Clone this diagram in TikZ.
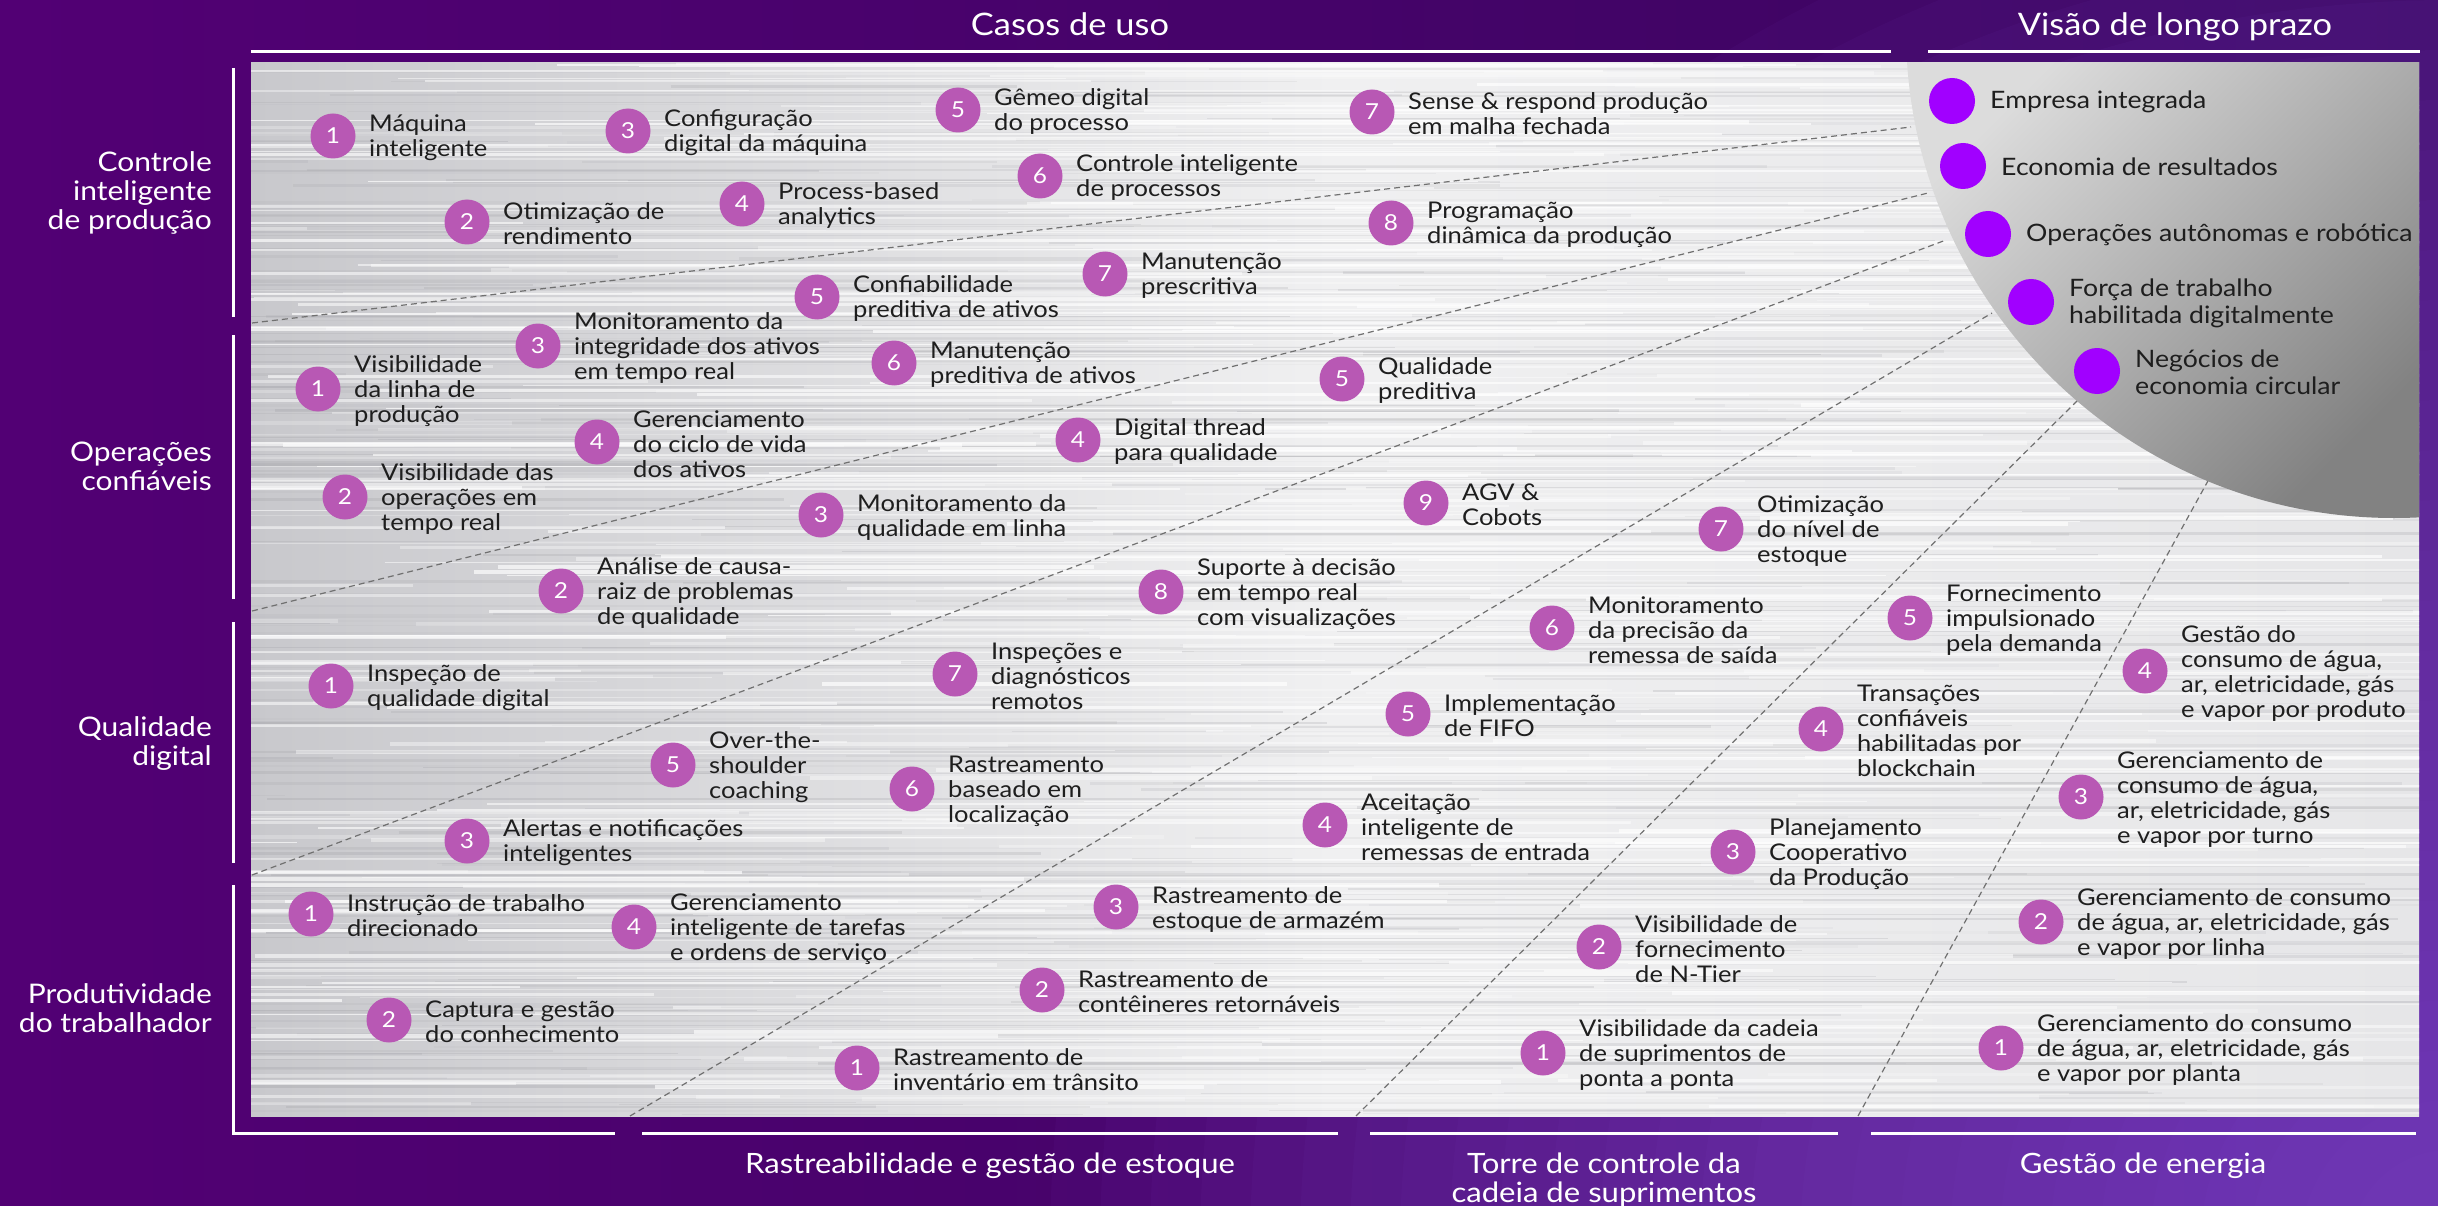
\documentclass[tikz,border=0pt]{standalone}
\usepackage{fontspec}
\setmainfont{Lato}[FakeStretch=1.11]

\definecolor{bgL}{HTML}{520074}
\definecolor{bgR}{HTML}{3A0660}
\definecolor{glowA}{HTML}{8A50D8}
\definecolor{numc}{HTML}{B858B4}
\definecolor{visc}{HTML}{A100FF}
\definecolor{ink}{HTML}{1E1E1E}
\definecolor{metalL}{HTML}{C8C8CC}
\definecolor{metalM}{HTML}{F0F0F1}
\definecolor{metalR}{HTML}{E6E6E8}
\definecolor{streakD}{HTML}{8E8E94}
\definecolor{discL}{HTML}{DCDCDC}
\definecolor{discD}{HTML}{828282}
\definecolor{dashc}{HTML}{707070}

\newcommand\itemfont{\fontsize{23}{25}\selectfont}
\newcommand\visfont{\fontsize{24}{27}\selectfont}
\newcommand\headfont{\fontsize{28}{29}\selectfont}
\newcommand\sidefont{\fontsize{27}{29}\selectfont}
\newcommand\topfont{\fontsize{31}{31}\selectfont}
\newcommand\numfont{\fontsize{22}{22}\selectfont}

% numbered use case: name, x, y, number, label
\newcommand\uc[5]{%
  \node[numdot] (#1) at (#2,#3) {#4};
  \node[usetxt] (#1t) at ([xshift=36pt,yshift=-2pt]#1.center) {#5};}
% long-term vision entry: name, x, y, label
\newcommand\vis[4]{%
  \node[visdot] (#1) at (#2,#3) {};
  \node[vistxt] (#1t) at ([xshift=38pt,yshift=-1pt]#1.center) {#4};}

\tikzset{
  rule/.style={draw=white, line width=3pt},
  divider/.style={draw=dashc, line width=1.2pt, dash pattern=on 6pt off 4pt},
  numdot/.style={circle, fill=numc, text=white, minimum size=45pt, inner sep=0pt, font=\numfont},
  usetxt/.style={anchor=west, align=left, text=ink, font=\itemfont, inner sep=0pt},
  visdot/.style={circle, fill=visc, minimum size=46pt, inner sep=0pt},
  vistxt/.style={anchor=west, align=left, text=ink, font=\visfont, inner sep=0pt},
  head/.style={text=white, font=\headfont, inner sep=0pt},
}

\begin{document}
\begin{tikzpicture}[x=1pt, y=-1pt]
\useasboundingbox (0,0) rectangle (2438,1206);

% purple backdrop with a violet glow in the lower right
\begin{scope}
  \clip (0,0) rectangle (2438,1206);
  \fill[left color=bgL, right color=bgR] (0,0) rectangle (2438,1206);
  \foreach \r in {100,150,...,1400}{
    \fill[glowA, opacity=0.05] (2450,1250) circle (\r);
  }
\end{scope}

% brushed metal panel
\begin{scope}
  \clip (251,63) rectangle (2419,1116);
  \shade[left color=metalL, right color=metalR, middle color=metalM] (251,63) rectangle (2419,1116);
  \pgfmathsetseed{42}
  \foreach \i in {1,...,420}{
    \pgfmathsetmacro\yy{63+1053*rnd}
    \pgfmathsetmacro\xa{251+2168*rnd-700}
    \pgfmathsetmacro\len{300+1400*rnd}
    \pgfmathsetmacro\w{0.6+2.4*rnd}
    \pgfmathsetmacro\op{0.04+0.16*rnd}
    \draw[line width=\w pt, draw=streakD, opacity=\op] (\xa,\yy) -- ++(\len,0);
  }
  \foreach \i in {1,...,420}{
    \pgfmathsetmacro\yy{63+1053*rnd}
    \pgfmathsetmacro\xa{251+2168*rnd-600}
    \pgfmathsetmacro\len{300+1500*rnd}
    \pgfmathsetmacro\w{0.8+3.2*rnd}
    \pgfmathsetmacro\op{0.2+0.5*rnd}
    \draw[line width=\w pt, draw=white, opacity=\op] (\xa,\yy) -- ++(\len,0);
  }

  % dashed dividers between the use-case bands
  \coordinate (d1a) at (252,323);  \coordinate (d1b) at (1911,127);
  \coordinate (d2a) at (252,611);  \coordinate (d2b) at (1928,193);
  \coordinate (d3a) at (252,875);  \coordinate (d3b) at (1946,240);
  \coordinate (d4a) at (630,1116); \coordinate (d4b) at (1992,313);
  \coordinate (d5a) at (1356,1116);\coordinate (d5b) at (2078,400);
  \coordinate (d6a) at (1858,1116);\coordinate (d6b) at (2209,479);
  \foreach \k in {1,...,6}{ \draw[divider] (d\k a) -- (d\k b); }

  % grey disc of the long-term vision
  \begin{scope}
    \clip (2394,30) circle (488);
    \shade[top color=discL, bottom color=discD, shading angle=45] (1906,63) rectangle (2419,518);
  \end{scope}
\end{scope}

% frame rules
\draw[rule] (251,52) -- (1891,52);
\draw[rule] (1928,52) -- (2420,52);
\draw[rule] (233,68) -- (233,317);
\draw[rule] (233,335) -- (233,599);
\draw[rule] (233,622) -- (233,863);
\draw[rule] (233,885) -- (233,1133) -- (615,1133);
\draw[rule] (642,1133) -- (1338,1133);
\draw[rule] (1370,1133) -- (1838,1133);
\draw[rule] (1871,1133) -- (2416,1133);

% headings
\node[head, font=\topfont, anchor=base] (hUse) at (1070,36) {Casos de uso};
\node[head, font=\topfont, anchor=base] (hVis) at (2175,36) {Visão de longo prazo};
\node[head, font=\sidefont, anchor=east, align=right] (lCtl) at (212,193) {Controle\\inteligente\\de produção};
\node[head, font=\sidefont, anchor=east, align=right] (lOps) at (212,466) {Operações\\confiáveis};
\node[head, font=\sidefont, anchor=east, align=right] (lQual) at (212,744) {Qualidade\\digital};
\node[head, font=\sidefont, anchor=east, align=right] (lProd) at (212,1008) {Produtividade\\do trabalhador};
\node[head, anchor=base] (bTrace) at (990,1173) {Rastreabilidade e gestão de estoque};
\node[head, align=center] (bTower) at (1604,1180) {Torre de controle da\\cadeia de suprimentos};
\node[head, anchor=base] (bEnergy) at (2143,1173) {Gestão de energia};

% long-term vision
\vis{v1}{1952}{101}{Empresa integrada}
\vis{v2}{1963}{166}{Economia de resultados}
\vis{v3}{1988}{234}{Operações autônomas e robótica}
\vis{v4}{2031}{302}{Força de trabalho\\habilitada digitalmente}
\vis{v5}{2097}{371}{Negócios de\\economia circular}

% intelligent production control
\uc{c1}{333}{136}{1}{Máquina\\inteligente}
\uc{c2}{467}{222}{2}{Otimização de\\rendimento}
\uc{c3}{628}{131}{3}{Configuração\\digital da máquina}
\uc{c4}{742}{204}{4}{Process-based\\analytics}
\uc{c5}{958}{110}{5}{Gêmeo digital\\do processo}
\uc{c6}{1040}{176}{6}{Controle inteligente\\de processos}
\uc{c7}{1372}{112}{7}{Sense \& respond produção\\em malha fechada}
\uc{c8}{1391}{223}{8}{Programação\\dinâmica da produção}

% reliable operations
\uc{o5}{817}{297}{5}{Confiabilidade\\preditiva de ativos}
\uc{o7}{1105}{274}{7}{Manutenção\\prescritiva}
\uc{o3}{538}{346}{3}{Monitoramento da\\integridade dos ativos\\em tempo real}
\uc{o6}{894}{363}{6}{Manutenção\\preditiva de ativos}
\uc{o1}{318}{389}{1}{Visibilidade\\da linha de\\produção}
\uc{o4}{597}{442}{4}{Gerenciamento\\do ciclo de vida\\dos ativos}
\uc{o2}{345}{497}{2}{Visibilidade das\\operações em\\tempo real}

% digital quality
\uc{q5}{1342}{379}{5}{Qualidade\\preditiva}
\uc{q4}{1078}{440}{4}{Digital thread\\para qualidade}
\uc{q3}{821}{515}{3}{Monitoramento da\\qualidade em linha}
\uc{q2}{561}{591}{2}{Análise de causa-\\raiz de problemas\\de qualidade}
\uc{q1}{331}{686}{1}{Inspeção de\\qualidade digital}

% autonomous robotics and traceability
\uc{p9}{1426}{503}{9}{AGV \&\\Cobots}
\uc{q8}{1161}{592}{8}{Suporte à decisão\\em tempo real\\com visualizações}
\uc{q7}{955}{674}{7}{Inspeções e\\diagnósticos\\remotos}
\uc{r7}{1721}{529}{7}{Otimização\\do nível de\\estoque}
\uc{r6}{1552}{628}{6}{Monitoramento\\da precisão da\\remessa de saída}
\uc{r5}{1408}{714}{5}{Implementação\\de FIFO}
\uc{r4}{1325}{825}{4}{Aceitação\\inteligente de\\remessas de entrada}
\uc{r3}{1116}{907}{3}{Rastreamento de\\estoque de armazém}
\uc{r2}{1042}{990}{2}{Rastreamento de\\contêineres retornáveis}
\uc{r1}{857}{1068}{1}{Rastreamento de\\inventário em trânsito}

% supply chain control tower
\uc{s5}{1910}{618}{5}{Fornecimento\\impulsionado\\pela demanda}
\uc{s4}{1821}{729}{4}{Transações\\confiáveis\\habilitadas por\\blockchain}
\uc{s3}{1733}{852}{3}{Planejamento\\Cooperativo\\da Produção}
\uc{s2}{1599}{947}{2}{Visibilidade de\\fornecimento\\de N-Tier}
\uc{s1}{1543}{1053}{1}{Visibilidade da cadeia\\de suprimentos de\\ponta a ponta}

% energy management
\uc{e4}{2145}{671}{4}{Gestão do\\consumo de água,\\ar, eletricidade, gás\\e vapor por produto}
\uc{e3}{2081}{797}{3}{Gerenciamento de\\consumo de água,\\ar, eletricidade, gás\\e vapor por turno}
\uc{e2}{2041}{922}{2}{Gerenciamento de consumo\\de água, ar, eletricidade, gás\\e vapor por linha}
\uc{e1}{2001}{1048}{1}{Gerenciamento do consumo\\de água, ar, eletricidade, gás\\e vapor por planta}

% worker productivity
\uc{w5}{673}{765}{5}{Over-the-\\shoulder\\coaching}
\uc{w6}{912}{789}{6}{Rastreamento\\baseado em\\localização}
\uc{w3}{467}{841}{3}{Alertas e notificações\\inteligentes}
\uc{w1}{311}{914}{1}{Instrução de trabalho\\direcionado}
\uc{w4}{634}{927}{4}{Gerenciamento\\inteligente de tarefas\\e ordens de serviço}
\uc{w2}{389}{1020}{2}{Captura e gestão\\do conhecimento}
\end{tikzpicture}
\end{document}
